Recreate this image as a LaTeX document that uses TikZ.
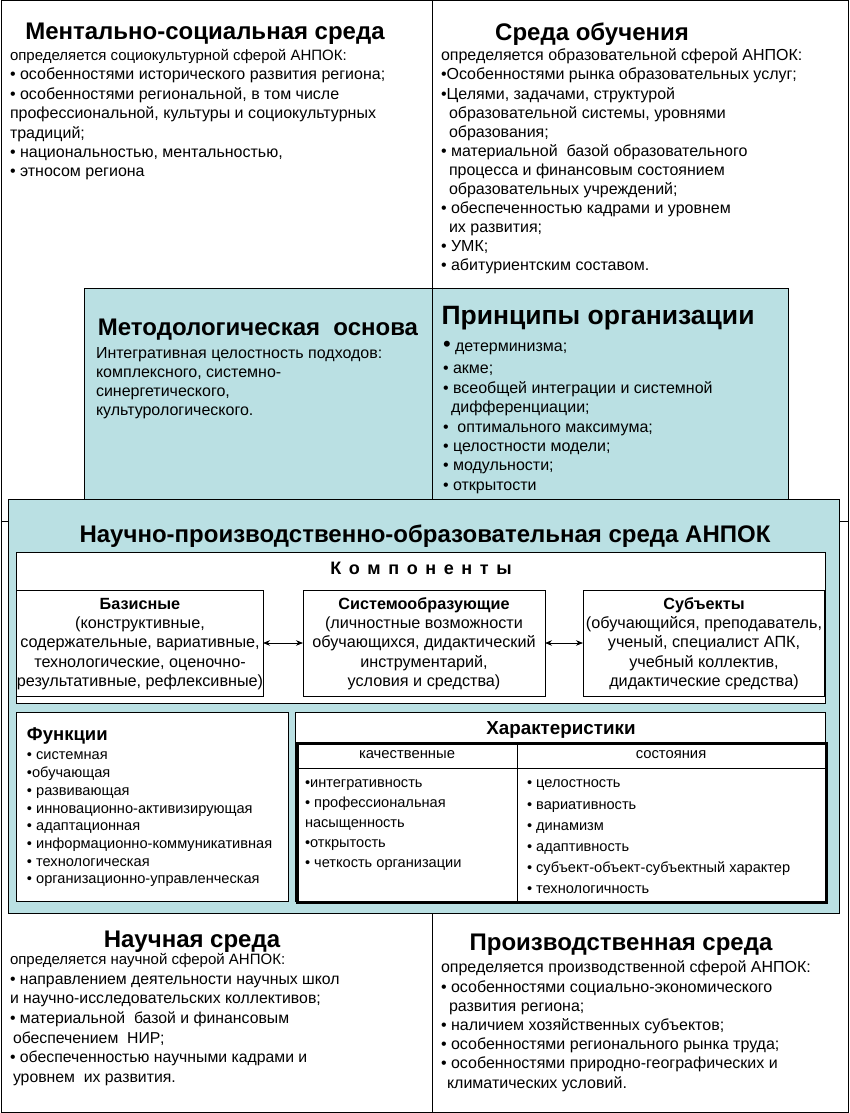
\documentclass[tikz,border=0pt]{standalone}
\usepackage{fontspec}
\setmainfont{Liberation Sans}
\usetikzlibrary{arrows.meta}
\definecolor{envblue}{RGB}{186,224,227}
\newcommand{\smallfirst}[1]{{\fontsize{15}{19.4}\selectfont #1}}
\newcommand{\lsp}{\hspace{7.6pt}}
\begin{document}
\begin{tikzpicture}[x=1pt,y=-1pt,
  box/.style={draw, line width=1pt, inner sep=0, outer sep=0, anchor=north west},
  ttl/.style={inner sep=0, outer sep=0, font=\bfseries\fontsize{24}{27}\selectfont},
  subttl/.style={inner sep=0, outer sep=0, font=\bfseries\fontsize{18.5}{21}\selectfont},
  body/.style={inner sep=0, outer sep=0, anchor=north west, align=left, font=\fontsize{16}{19.4}\selectfont},
  ctext/.style={inner sep=0, outer sep=0, anchor=north, align=center, font=\fontsize{16.2}{19.25}\selectfont},
  small/.style={inner sep=0, outer sep=0, anchor=north west, align=left, font=\fontsize{14.6}{17.7}\selectfont},
  hdr/.style={inner sep=0, outer sep=0, font=\fontsize{14.8}{17}\selectfont},
  dbl/.style={{Stealth[length=7pt,width=5.5pt]}-{Stealth[length=7pt,width=5.5pt]}, line width=0.8pt}
]
\useasboundingbox (0,0) rectangle (849,1113);
% outer frame
\node[box, minimum width=847, minimum height=1111] (frame) at (1,1) {};
% upper blue box
\node[box, fill=envblue, minimum width=704, minimum height=222] (meth) at (84,288) {};
% dividers
\coordinate (vt) at (432,1);
\coordinate (vb) at (432,1112);
\coordinate (hl) at (1,521);
\coordinate (hr) at (848,521);
\draw[line width=1pt] (vt) -- (vb);
\draw[line width=1pt] (hl) -- (hr);
% big box
\node[box, fill=envblue, minimum width=831, minimum height=414] (big) at (8,499) {};
\node[box, fill=white, minimum width=809, minimum height=151] (komp) at (16,552) {};
\node[box, fill=white, minimum width=247, minimum height=106] (bas) at (16,590) {};
\node[box, fill=white, minimum width=242, minimum height=106] (sys) at (303,590) {};
\node[box, fill=white, minimum width=241, minimum height=106] (sub) at (583,590) {};
\node[box, fill=white, minimum width=272, minimum height=189] (func) at (16,712) {};
\node[box, fill=white, minimum width=530, minimum height=189] (chr) at (295,712) {};
\node[box, line width=3pt, minimum width=529, minimum height=159] (tab) at (297,743) {};
\coordinate (hdl) at (297,768);
\coordinate (hdr) at (826,768);
\coordinate (colt) at (517,743);
\coordinate (colb) at (517,902);
\draw[line width=1pt] (hdl) -- (hdr);
\draw[line width=1pt] (colt) -- (colb);
\draw[dbl] (bas.east) -- (sys.west);
\draw[dbl] (sys.east) -- (sub.west);

% ---- texts ----
\node[ttl] (t1) at (205,34) {Ментально-социальная среда};
\node[body] (b1) at (10,47) {\strut\smallfirst{определяется социокультурной сферой АНПОК:}\\
• особенностями исторического развития региона;\\
• особенностями региональной, в том числе\\
профессиональной, культуры и социокультурных\\
традиций;\\
• национальностью, ментальностью,\\
• этносом региона};

\node[ttl] (t2) at (592,34) {Среда обучения};
\node[body, font=\fontsize{16}{19.1}\selectfont] (b2) at (441,47.5) {\strut определяется образовательной сферой АНПОК:\\
•Особенностями рынка образовательных услуг;\\
•Целями, задачами, структурой\\
\hspace*{8pt}образовательной системы, уровнями\\
\hspace*{8pt}образования;\\
• материальной\ \ базой образовательного\\
\hspace*{8pt}процесса и финансовым состоянием\\
\hspace*{8pt}образовательных учреждений;\\
• обеспеченностью кадрами и уровнем\\
\hspace*{8pt}их развития;\\
• УМК;\\
• абитуриентским составом.};

\node[ttl] (t3) at (258,330) {Методологическая\ \ основа};
\node[body, font=\fontsize{16}{19}\selectfont] (b3) at (96,345) {\strut Интегративная целостность подходов:\\
комплексного, системно-\\
синергетического,\\
культурологического.};

\node[ttl, font=\bfseries\fontsize{26.5}{29}\selectfont] (t4) at (598,318) {Принципы организации};
\node[body] (b4) at (443,338) {\strut{\fontsize{22}{19}\selectfont •} детерминизма;\\[3pt]
• акме;\\
• всеобщей интеграции и системной\\
\hspace*{8pt}дифференциации;\\
•\ \ оптимального максимума;\\
• целостности модели;\\
• модульности;\\
• открытости};

\node[ttl] (t5) at (425,536) {Научно-производственно-образовательная среда АНПОК};
\node[subttl, font=\bfseries\fontsize{18}{21}\selectfont] (t6) at (421,568) {К\lsp о\lsp м\lsp п\lsp о\lsp н\lsp е\lsp н\lsp т\lsp ы};

\node[ctext] (bt1) at (140,596) {\strut\textbf{Базисные}\\
(конструктивные,\\
содержательные, вариативные,\\
технологические, оценочно-\\
результативные, рефлексивные)};
\node[ctext] (bt2) at (424,596) {\strut\textbf{Системообразующие}\\
(личностные возможности\\
обучающихся, дидактический\\
инструментарий,\\
условия и средства)};
\node[ctext] (bt3) at (704,596) {\strut\textbf{Субъекты}\\
(обучающийся, преподаватель,\\
ученый, специалист АПК,\\
учебный коллектив,\\
дидактические средства)};

\node[subttl, anchor=west] (t7) at (27,736) {Функции};
\node[small] (f1) at (27,747.5) {\strut• системная\\
•обучающая\\
• развивающая\\
• инновационно-активизирующая\\
• адаптационная\\
• информационно-коммуникативная\\
• технологическая\\
• организационно-управленческая};

\node[subttl, font=\bfseries\fontsize{18.8}{21}\selectfont] (t8) at (561,730) {Характеристики};
\node[hdr] (h1) at (407,755) {качественные};
\node[hdr] (h2) at (671,755) {состояния};
\node[small, font=\fontsize{14.6}{20}\selectfont] (q1) at (305,773.5) {\strut•интегративность\\
• профессиональная\\
насыщенность\\
•открытость\\
• четкость организации};
\node[small, font=\fontsize{14.6}{21.2}\selectfont] (q2) at (527,773) {\strut• целостность\\
• вариативность\\
• динамизм\\
• адаптивность\\
• субъект-объект-субъектный характер\\
• технологичность};

\node[ttl] (t9) at (192,942) {Научная среда};
\node[body, font=\fontsize{15.8}{19.7}\selectfont] (b9) at (10,950.5) {\strut\smallfirst{определяется научной сферой АНПОК:}\\
• направлением деятельности научных школ\\
и научно-исследовательских коллективов;\\
• материальной\ \ базой и финансовым\\
\hspace*{3pt}обеспечением\ \ НИР;\\
• обеспеченностью научными кадрами и\\
\hspace*{3pt}уровнем\ \ их развития.};

\node[ttl] (t10) at (621,945) {Производственная среда};
\node[body, font=\fontsize{16}{19.2}\selectfont] (b10) at (441,959.5) {\strut определяется производственной сферой АНПОК:\\
• особенностями социально-экономического\\
\hspace*{8pt}развития региона;\\
• наличием хозяйственных субъектов;\\
• особенностями регионального рынка труда;\\
• особенностями природно-географических и\\
\hspace*{6pt}климатических условий.};
\end{tikzpicture}
\end{document}
